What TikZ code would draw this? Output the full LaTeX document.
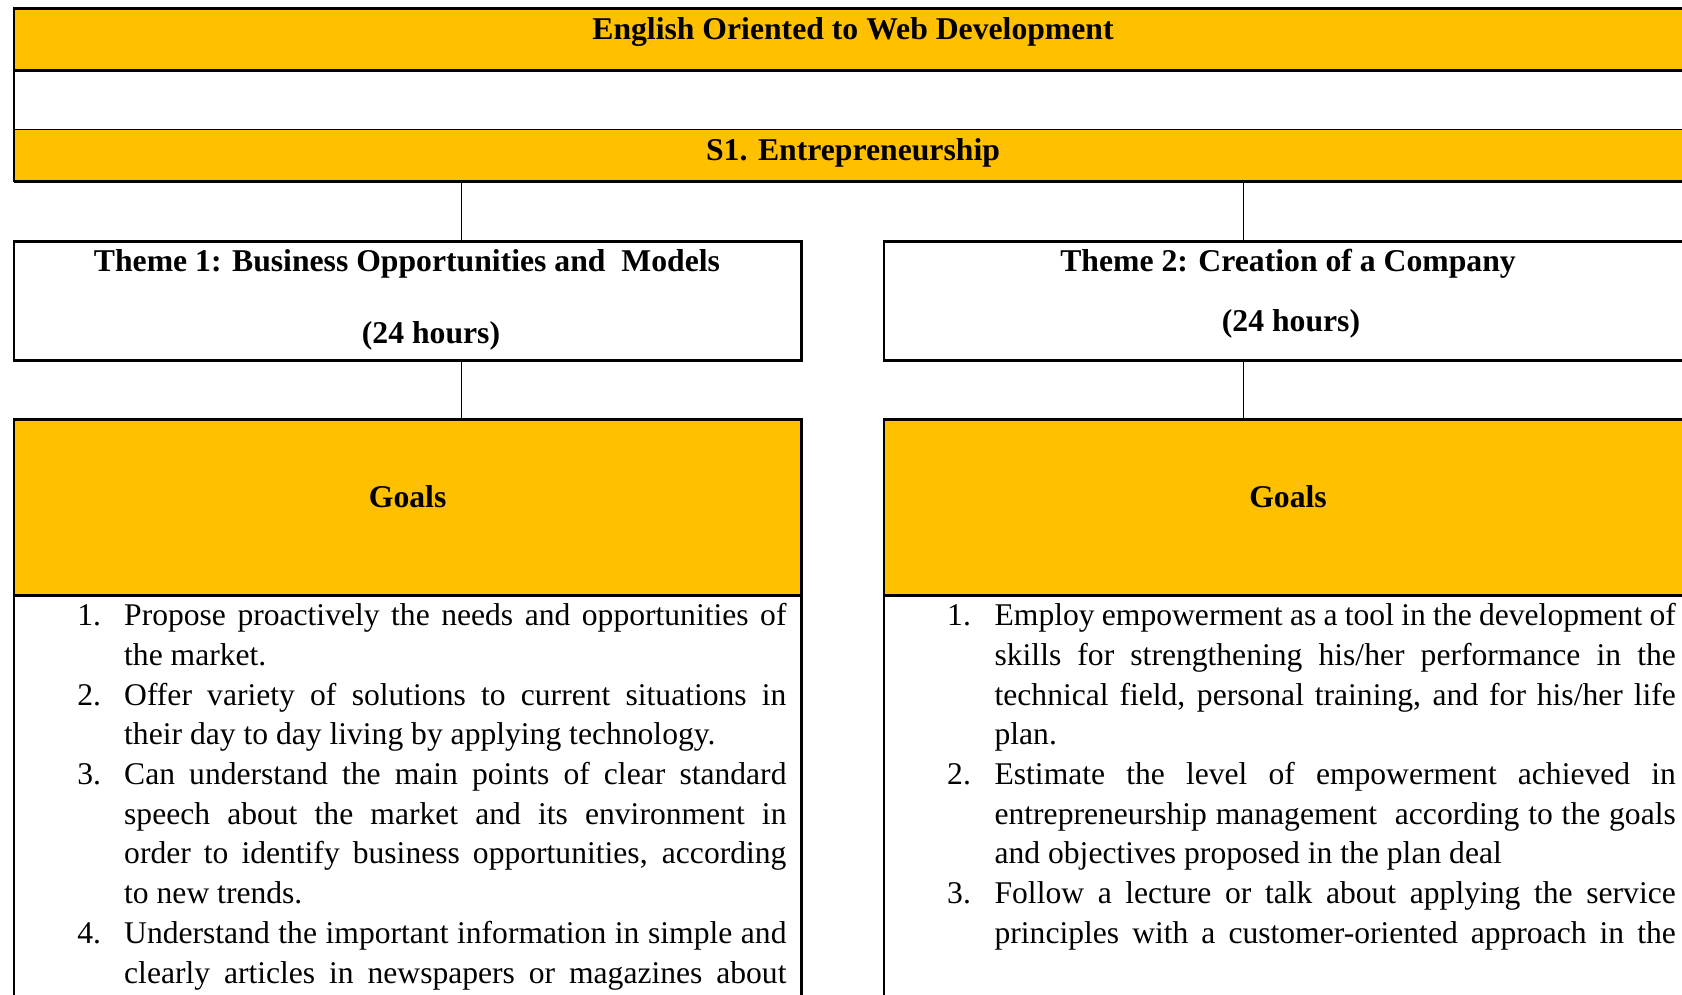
\documentclass[tikz,border=0pt]{standalone}
\usepackage{fontspec}
\setmainfont{Liberation Serif}
\definecolor{gold}{HTML}{FFC000}
\newcommand{\jl}[2]{\makebox[#1pt][s]{#2}}
\begin{document}
\begin{tikzpicture}[x=1pt,y=-1pt,
  ybox/.style={draw, line width=2.4pt, fill=gold, anchor=north west, inner sep=0pt, outer sep=0pt},
  wbox/.style={draw, line width=2.4pt, fill=white, anchor=north west, inner sep=0pt, outer sep=0pt},
  ttl/.style={font=\bfseries\fontsize{31.7}{38}\selectfont, anchor=base, inner sep=0pt},
  body/.style={font=\fontsize{31.6}{39.7}\selectfont, anchor=base west, inner sep=0pt},
  conn/.style={line width=1.5pt}]
\useasboundingbox (0,0) rectangle (1682,995);
\clip (0,0) rectangle (1682,995);
\fill[white] (0,0) rectangle (1682,995);
% top table
\node[wbox, line width=1.2pt, minimum width=1676pt, minimum height=59.2pt] (band) at (14,70.6) {};
\node[ybox, line width=1.2pt, minimum width=1676pt, minimum height=51.9pt] (s1) at (14,129.8) {};
\draw[line width=2.4pt] (s1.south west) -- (s1.south east);
\node[ybox, minimum width=1676pt, minimum height=62pt] (title) at (14,8.6) {};
\node[ttl] (titletxt) at (853,39.8) {English Oriented to Web Development};
\node[ttl] (s1txt) at (853,161) {S1. Entrepreneurship};
% theme boxes
\node[wbox, minimum width=787.3pt, minimum height=119pt] (t1) at (14,241.4) {};
\node[wbox, minimum width=806pt, minimum height=119pt] (t2) at (884,241.4) {};
\node[ttl] (t1a) at (407,271.5) {Theme 1: Business Opportunities and\ \ Models};
\node[ttl] (t1b) at (431,343) {(24 hours)};
\node[ttl] (t2a) at (1288,271.5) {Theme 2: Creation of a Company};
\node[ttl] (t2b) at (1291,331) {(24 hours)};
% goals
\node[ybox, minimum width=787.3pt, minimum height=175.9pt] (g1) at (14,419.4) {};
\node[ybox, minimum width=806pt, minimum height=175.9pt] (g2) at (884,419.4) {};
\node[ttl] (g1t) at (407.6,507.5) {Goals};
\node[ttl] (g2t) at (1288,507.5) {Goals};
% list boxes
\node[wbox, minimum width=787.3pt, minimum height=430pt] (l1) at (14,595.3) {};
\node[wbox, minimum width=806pt, minimum height=430pt] (l2) at (884,595.3) {};
% connectors
\coordinate (cL) at (461.3,0);
\coordinate (cR) at (1243.3,0);
\draw[conn] (s1.south -| cL) -- (t1.north -| cL);
\draw[conn] (s1.south -| cR) -- (t2.north -| cR);
\draw[conn] (t1.south -| cL) -- (g1.north -| cL);
\draw[conn] (t2.south -| cR) -- (g2.north -| cR);
% left list
\node[body] (ln1) at (77.2,625.7) {1.};
\node[body] (lt1) at (124,625.7) {\jl{662.3}{Propose proactively the needs and opportunities of}};
\node[body] (lt2) at (124,665.4) {the market.};
\node[body] (ln2) at (77.2,705.1) {2.};
\node[body] (lt3) at (124,705.1) {\jl{662.3}{Offer variety of solutions to current situations in}};
\node[body] (lt4) at (124,744.8) {their day to day living by applying technology.};
\node[body] (ln3) at (77.2,784.5) {3.};
\node[body] (lt5) at (124,784.5) {\jl{662.3}{Can understand the main points of clear standard}};
\node[body] (lt6) at (124,824.2) {\jl{662.3}{speech about the market and its environment in}};
\node[body] (lt7) at (124,863.9) {\jl{662.3}{order to identify business opportunities, according}};
\node[body] (lt8) at (124,903.6) {to new trends.};
\node[body] (ln4) at (77.2,943.3) {4.};
\node[body] (lt9) at (124,943.3) {\jl{662.3}{Understand the important information in simple and}};
\node[body] (lt10) at (124,983.0) {\jl{662.3}{clearly articles in newspapers or magazines about}};
% right list
\node[body] (rn1) at (947,625.7) {1.};
\node[body] (rt1) at (994.4,625.7) {\jl{681.2}{Employ empowerment as a tool in the development of}};
\node[body] (rt2) at (994.4,665.4) {\jl{681.2}{skills for strengthening his/her performance in the}};
\node[body] (rt3) at (994.4,705.1) {\jl{681.2}{technical field, personal training, and for his/her life}};
\node[body] (rt4) at (994.4,744.8) {plan.};
\node[body] (rn2) at (947,784.5) {2.};
\node[body] (rt5) at (994.4,784.5) {\jl{681.2}{Estimate the level of empowerment achieved in}};
\node[body] (rt6) at (994.4,824.2) {\jl{681.2}{entrepreneurship management\ \ according to the goals}};
\node[body] (rt7) at (994.4,863.9) {and objectives proposed in the plan deal};
\node[body] (rn3) at (947,903.6) {3.};
\node[body] (rt8) at (994.4,903.6) {\jl{681.2}{Follow a lecture or talk about applying the service}};
\node[body] (rt9) at (994.4,943.3) {\jl{681.2}{principles with a customer-oriented approach in the}};
\end{tikzpicture}
\end{document}
